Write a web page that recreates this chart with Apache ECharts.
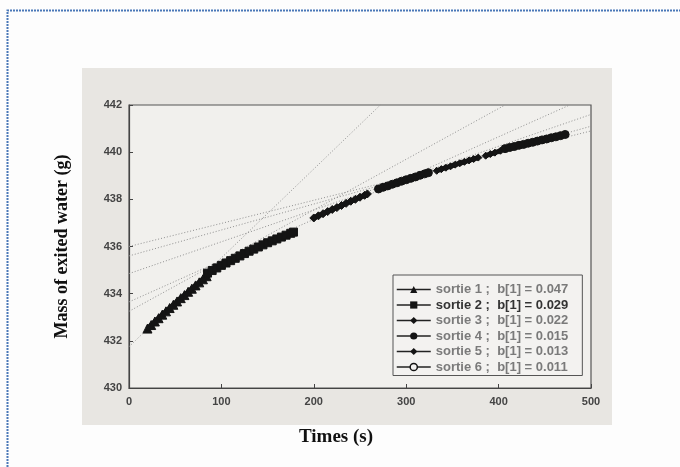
<!DOCTYPE html>
<html>
<head>
<meta charset="utf-8">
<script src="https://cdn.jsdelivr.net/npm/echarts@6/dist/echarts.min.js"></script>
<style>
  html, body { margin: 0; padding: 0; background: #fdfdfd; }
  #main { width: 680px; height: 467px; }
</style>
</head>
<body>
<div id="main"></div>
<script>
// times (s) and mass of exited water (g), one pair of arrays per sortie
const timeS1 = [20, 24, 28, 32, 36, 40, 44, 48, 52, 56, 60, 64, 68, 72, 76, 80, 84]
const massS1 = [432.52, 432.67, 432.82, 432.96, 433.11, 433.25, 433.39, 433.53, 433.67, 433.81, 433.94, 434.08, 434.21, 434.35, 434.48, 434.61, 434.74]
const timeS2 = [85, 90, 95, 100, 105, 110, 115, 120, 125, 130, 135, 140, 145, 150, 155, 160, 165, 170, 175, 178]
const massS2 = [434.87, 434.98, 435.09, 435.2, 435.3, 435.4, 435.5, 435.6, 435.7, 435.8, 435.89, 435.98, 436.07, 436.16, 436.24, 436.32, 436.4, 436.48, 436.56, 436.61]
const timeS3 = [200, 205, 210, 215, 220, 225, 230, 235, 240, 245, 250, 255, 258]
const massS3 = [437.21, 437.3, 437.39, 437.48, 437.57, 437.65, 437.74, 437.83, 437.92, 438.0, 438.09, 438.17, 438.23]
const timeS4 = [270, 275, 280, 285, 290, 295, 300, 305, 310, 315, 320, 324]
const massS4 = [438.44, 438.51, 438.57, 438.64, 438.7, 438.77, 438.83, 438.89, 438.95, 439.02, 439.08, 439.13]
const timeS5 = [333, 338, 343, 348, 353, 358, 363, 368, 373, 378, 382, 386, 391, 396, 402]
const massS5 = [439.21, 439.28, 439.34, 439.4, 439.47, 439.53, 439.59, 439.65, 439.71, 439.77, null, 439.85, 439.92, 439.98, 440.06]
const timeS6 = [407, 412, 417, 422, 427, 432, 437, 442, 447, 452, 457, 462, 467, 472]
const massS6 = [440.15, 440.2, 440.24, 440.29, 440.33, 440.38, 440.42, 440.47, 440.52, 440.56, 440.61, 440.65, 440.7, 440.75]

// fitted straight lines (dotted), two end points each
const fitLine1 = [[0, 431.75], [272, 442]]
const fitLine2 = [[0, 433.25], [407, 442]]
const fitLine3 = [[0, 433.65], [477, 442]]
const fitLine4 = [[0, 434.85], [500, 441.6]]
const fitLine5 = [[0, 435.6], [500, 441.1]]
const fitLine6 = [[0, 436.0], [500, 440.9]]

const sortieNames = [
  'sortie 1 ;  b[1] = 0.047',
  'sortie 2 ;  b[1] = 0.029',
  'sortie 3 ;  b[1] = 0.022',
  'sortie 4 ;  b[1] = 0.015',
  'sortie 5 ;  b[1] = 0.013',
  'sortie 6 ;  b[1] = 0.011'
]
const sortieSymbols = ['triangle', 'rect', 'diamond', 'circle', 'diamond', 'circle']
const sortieSizes = [9, 8, 8, 8, 7, 8]

const zip = (xs, ys) => xs.map((x, i) => [x, ys[i]])
const sortieData = [
  zip(timeS1, massS1), zip(timeS2, massS2), zip(timeS3, massS3),
  zip(timeS4, massS4), zip(timeS5, massS5), zip(timeS6, massS6)
]
const fitLines = [fitLine1, fitLine2, fitLine3, fitLine4, fitLine5, fitLine6]

let myChart = echarts.init(document.getElementById('main'))

const series = []
fitLines.forEach((pts, i) => {
  series.push({
    name: 'fit' + (i + 1),
    type: 'line',
    data: pts,
    symbol: 'none',
    silent: true,
    z: 1,
    lineStyle: { type: [1, 2], width: 1, color: '#8f8f8f' }
  })
})
sortieData.forEach((pts, i) => {
  series.push({
    name: sortieNames[i],
    type: 'line',
    data: pts,
    symbol: sortieSymbols[i],
    symbolSize: sortieSizes[i],
    showAllSymbol: true,
    connectNulls: false,
    z: 3,
    itemStyle: { color: '#141414', borderColor: '#141414' },
    lineStyle: { width: 5, color: '#141414' }
  })
})

// legend entries; the last one is drawn as an open circle
const legendData = sortieNames.map((name, i) => i === 5
  ? { name: name, itemStyle: { color: '#f3f2f0', borderColor: '#141414', borderWidth: 1.5 } }
  : { name: name })

myChart.setOption({
  animation: false,
  graphic: [
    {
      type: 'rect', z: -100,
      shape: { x: 82, y: 68, width: 530, height: 357 },
      style: { fill: '#e8e6e2' }
    },
    {
      type: 'polyline', z: 100,
      shape: { points: [[7.5, 467], [7.5, 10.5], [680, 10.5]] },
      style: { stroke: '#4a78b8', lineWidth: 2, lineDash: [2, 1], fill: null }
    },
    {
      type: 'text', z: 100,
      x: 336, y: 437,
      style: {
        text: 'Times (s)', fill: '#111',
        font: 'bold 19px "Liberation Serif", serif',
        align: 'center', verticalAlign: 'middle'
      }
    }
  ],
  grid: {
    left: 129, top: 105, width: 462, height: 283,
    show: true, borderColor: '#555', borderWidth: 1.2,
    backgroundColor: '#f1f0ed'
  },
  legend: {
    orient: 'vertical',
    left: 393, top: 275,
    padding: [8, 14, 2, 3],
    itemWidth: 34, itemHeight: 9, itemGap: 2.5,
    backgroundColor: '#f3f2f0',
    borderColor: '#555', borderWidth: 1,
    data: legendData,
    lineStyle: { width: 1.5, color: '#222' },
    textStyle: {
      fontFamily: 'Liberation Sans, Arial, sans-serif',
      fontSize: 13, fontWeight: 'bold', color: '#7a7a7a',
      rich: {
        dark: { fontFamily: 'Liberation Sans, Arial, sans-serif', fontSize: 13, fontWeight: 'bold', color: '#333' }
      }
    },
    formatter: name => name === sortieNames[1] ? '{dark|' + name + '}' : name
  },
  xAxis: {
    type: 'value', min: 0, max: 500, interval: 100,
    axisLine: { onZero: false, lineStyle: { color: '#444', width: 1.2 } },
    axisTick: { inside: true, length: 4, lineStyle: { color: '#444' } },
    splitLine: { show: false },
    axisLabel: {
      margin: 8, color: '#444', fontSize: 11, fontWeight: 'bold',
      fontFamily: 'Liberation Sans, Arial, sans-serif'
    }
  },
  yAxis: {
    type: 'value', min: 430, max: 442, interval: 2,
    name: 'Mass of exited water (g)',
    nameLocation: 'middle', nameGap: 58,
    nameTextStyle: {
      fontFamily: 'Liberation Serif, serif', fontWeight: 'bold',
      fontSize: 18, color: '#111'
    },
    axisLine: { show: true, lineStyle: { color: '#444', width: 1.2 } },
    axisTick: { show: true, inside: true, length: 4, lineStyle: { color: '#444' } },
    splitLine: { show: false },
    axisLabel: {
      margin: 7, color: '#444', fontSize: 11, fontWeight: 'bold',
      fontFamily: 'Liberation Sans, Arial, sans-serif'
    }
  },
  series: series
})
</script>
</body>
</html>
